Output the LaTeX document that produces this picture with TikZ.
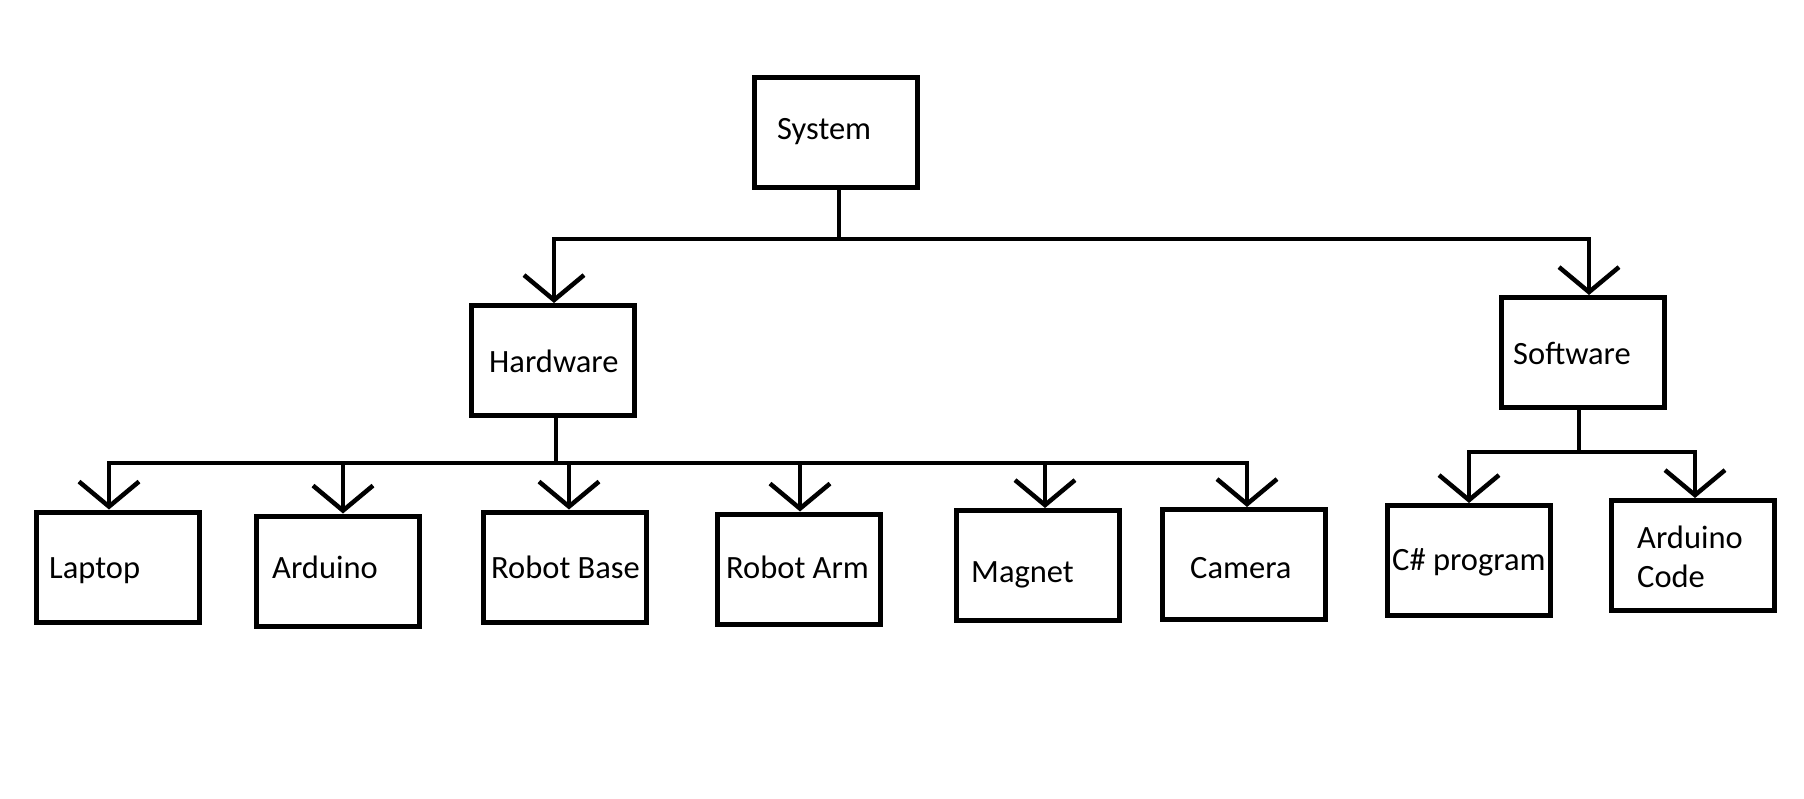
\documentclass[tikz,border=0pt]{standalone}
\usepackage{tikz, xcolor}
\usepackage{fontspec}
\setmainfont{Carlito}
\usetikzlibrary{shapes,arrows.meta}

\begin{document}
\begin{tikzpicture}[x=1pt, y=-1pt, font=\fontsize{32.5}{39}\selectfont]
\tikzstyle{vertexr}=[rectangle, draw=black, line width=5pt, minimum width=163pt, minimum height=110pt, inner sep=0pt]
\tikzstyle{textr}=[anchor=base west, inner sep=0pt, align=left]
\tikzstyle{drawstyle}=[line width=4.5pt, -{Straight Barb[length=25pt, width=60pt]}]
\tikzstyle{busstyle}=[line width=4.5pt, line cap=rect]

\useasboundingbox[fill=white] (0,0) rectangle (1804,798);

\node[vertexr] (G0x0) at (836,132) {};
\node[textr] (T0x0) at (777,139) {System};
\node[vertexr] (G1x0) at (552.5,360.5) {};
\node[textr] (T1x0) at (489,372) {Hardware};
\node[vertexr] (G1x1) at (1583,352.5) {};
\node[textr] (T1x1) at (1513,364) {Software};

\node[vertexr] (G2x0) at (117.5,567) {};
\node[textr] (T2x0) at (49,578) {Laptop};
\node[vertexr] (G2x1) at (337.5,571) {};
\node[textr] (T2x1) at (272,578) {Arduino};
\node[vertexr] (G2x2) at (564.5,567) {};
\node[textr] (T2x2) at (491,578) {Robot Base};
\node[vertexr] (G2x3) at (799,569) {};
\node[textr] (T2x3) at (726,578) {Robot Arm};
\node[vertexr] (G2x4) at (1037.5,565.5) {};
\node[textr] (T2x4) at (971,582) {Magnet};
\node[vertexr] (G2x5) at (1244,564.5) {};
\node[textr] (T2x5) at (1190,578) {Camera};
\node[vertexr] (G2x6) at (1469,560.5) {};
\node[textr] (T2x6) at (1392,570) {C\# program};
\node[vertexr] (G2x7) at (1693,555.5) {};
\node[textr] (T2x7) at (1637,587) {Arduino\\Code};

% System -> Hardware, Software
\coordinate (J0) at (839,239);
\coordinate (J1) at (554,239);
\coordinate (J2) at (1589,239);
\draw[busstyle] (G0x0.south -| J0) -- (J0);
\draw[busstyle] (J1) -- (J2);
\draw[drawstyle] (J1) -- (J1 |- G1x0.north);
\draw[drawstyle] (J2) -- (J2 |- G1x1.north);

% Hardware -> parts
\coordinate (J3) at (556,463);
\draw[busstyle] (G1x0.south -| J3) -- (J3);
\foreach \n/\x in {G2x0/109, G2x1/343, G2x2/569, G2x3/800, G2x4/1045, G2x5/1247}{
  \coordinate (B\n) at (\x,463);
  \draw[drawstyle] (B\n) -- (B\n |- \n.north);
}
\draw[busstyle] (BG2x0) -- (BG2x5);

% Software -> parts
\coordinate (J4) at (1579,452);
\draw[busstyle] (G1x1.south -| J4) -- (J4);
\foreach \n/\x in {G2x6/1469, G2x7/1695}{
  \coordinate (B\n) at (\x,452);
  \draw[drawstyle] (B\n) -- (B\n |- \n.north);
}
\draw[busstyle] (BG2x6) -- (BG2x7);
\end{tikzpicture}
\end{document}
